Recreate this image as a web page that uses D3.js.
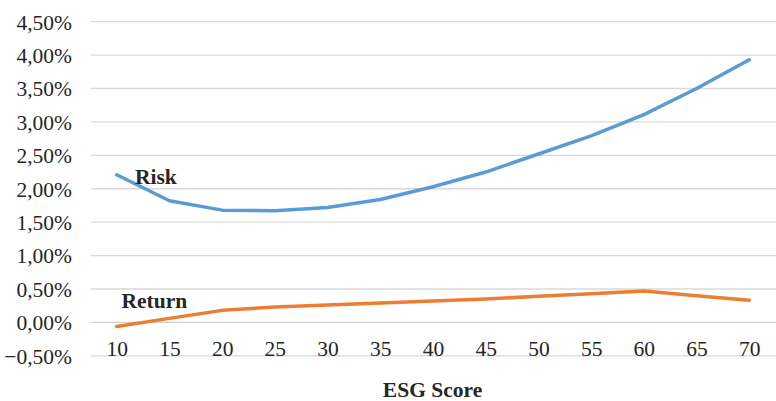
<!DOCTYPE html>
<html>
<head>
<meta charset="utf-8">
<script src="https://cdn.jsdelivr.net/npm/d3@7"></script>
<style>
  html, body { margin: 0; padding: 0; background: #fff; }
  svg { display: block; }
  svg text { font-family: "Liberation Serif", "Times New Roman", Tinos, "DejaVu Serif", serif; }
</style>
</head>
<body>
<svg id="chart" width="776" height="401"></svg>
<script>
const categories = [10, 15, 20, 25, 30, 35, 40, 45, 50, 55, 60, 65, 70];
const riskValues = [2.21, 1.82, 1.68, 1.67, 1.72, 1.84, 2.03, 2.25, 2.52, 2.79, 3.11, 3.50, 3.93];
const returnValues = [-0.06, 0.06, 0.18, 0.23, 0.26, 0.29, 0.32, 0.35, 0.39, 0.43, 0.47, 0.40, 0.33];
const yTicks = [-0.5, 0, 0.5, 1.0, 1.5, 2.0, 2.5, 3.0, 3.5, 4.0, 4.5];
const xTitle = "ESG Score";
const seriesNames = ["Risk", "Return"];

const svg = d3.select("#chart");

const x = d3.scalePoint().domain(categories).range([116.7, 749.3]);
const y = d3.scaleLinear().domain([-0.5, 4.5]).range([355.8, 21.7]);

// gridlines
svg.append("g").selectAll("line").data(yTicks).join("line")
  .attr("x1", 91).attr("x2", 776)
  .attr("y1", d => y(d)).attr("y2", d => y(d))
  .attr("stroke", d => d === 0 ? "#d0d0d0" : "#d9d9d9")
  .attr("stroke-width", 1.3);

// y axis
const fmt = d => d3.format(".2f")(d).replace(".", ",") + "%";
const yAxis = d3.axisLeft(y).tickValues(yTicks).tickFormat(fmt).tickSize(0).tickPadding(0);
const gy = svg.append("g").attr("transform", "translate(72,0)").call(yAxis);
gy.attr("font-family", null);
gy.select(".domain").remove();
gy.selectAll("text").style("font-size", "21.5px").attr("fill", "#262626").attr("dy", "0.34em");

// x axis
const xAxis = d3.axisBottom(x).tickSize(0).tickPadding(0);
const gx = svg.append("g").attr("transform", "translate(0,340)").call(xAxis);
gx.attr("font-family", null);
gx.select(".domain").remove();
gx.selectAll("text").style("font-size", "21.5px").attr("fill", "#262626").attr("dy", "0.75em");

// lines
const line = d3.line().x((d, i) => x(categories[i])).y(d => y(d));
svg.append("path").datum(riskValues).attr("d", line)
  .attr("fill", "none").attr("stroke", "#5b9bd5").attr("stroke-width", 3.5).attr("stroke-linecap", "round").attr("stroke-linejoin", "round");
svg.append("path").datum(returnValues).attr("d", line)
  .attr("fill", "none").attr("stroke", "#ed7d31").attr("stroke-width", 3.5).attr("stroke-linecap", "round").attr("stroke-linejoin", "round");

// series labels
svg.append("text").attr("x", 135).attr("y", 183.5).text(seriesNames[0])
  .style("font-size", "21.5px").style("font-weight", "bold").attr("fill", "#262626");
svg.append("text").attr("x", 121.5).attr("y", 307.5).text(seriesNames[1])
  .style("font-size", "21.5px").style("font-weight", "bold").attr("fill", "#262626");

// x title
svg.append("text").attr("x", 432.5).attr("y", 397).attr("text-anchor", "middle").text(xTitle)
  .style("font-size", "21.5px").style("font-weight", "bold").attr("fill", "#262626");
</script>
</body>
</html>
